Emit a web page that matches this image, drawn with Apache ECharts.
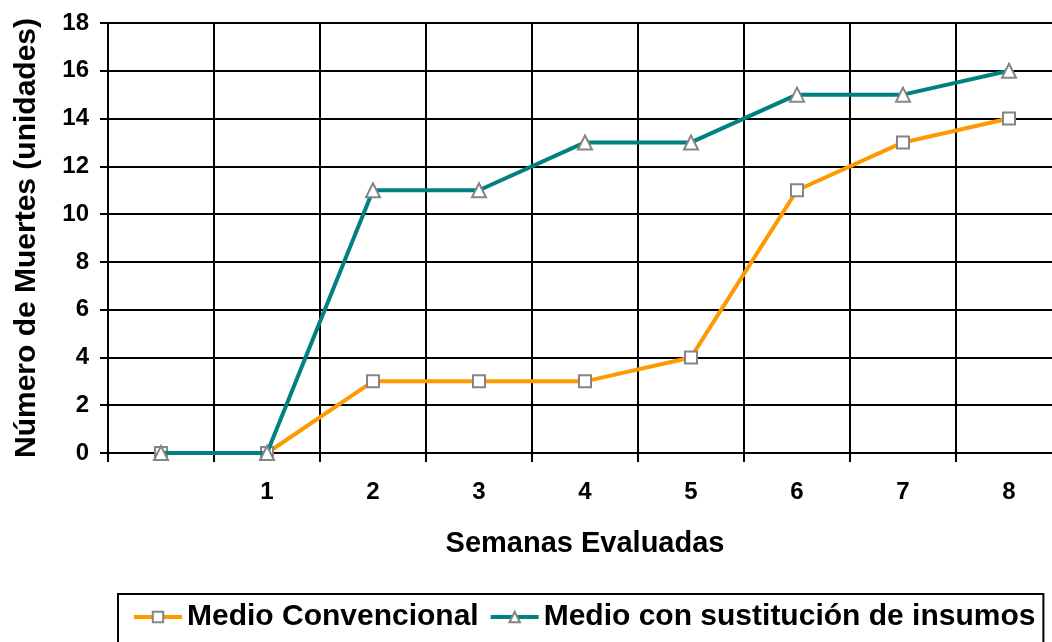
<!DOCTYPE html>
<html>
<head>
<meta charset="utf-8">
<script src="https://cdn.jsdelivr.net/npm/echarts@6/dist/echarts.min.js"></script>
<style>
  html, body { margin: 0; padding: 0; background: #fff; overflow: hidden; }
  /* the plot area continues slightly past the visible right edge */
  #chart { width: 1072px; height: 642px; }
</style>
</head>
<body>
<div id="chart"></div>
<script>
// Weeks evaluated (the first point is the starting week, left unlabeled)
const semanas = ['', '1', '2', '3', '4', '5', '6', '7', '8'];
// Cumulative deaths per medium
const medioConvencional = [0, 0, 3, 3, 3, 4, 11, 13, 14];
const medioSustitucion = [0, 0, 11, 11, 13, 13, 15, 15, 16];
const yTicks = { min: 0, max: 18, interval: 2 };

const FONT = '"Liberation Sans", Arial, sans-serif';
const chart = echarts.init(document.getElementById('chart'), null, { renderer: 'canvas' });

const markerStyle = { color: '#ffffff', borderColor: '#858585', borderWidth: 2 };

chart.setOption({
  animation: false,
  backgroundColor: '#ffffff',
  grid: { left: 108, right: 10, top: 23, bottom: 189, containLabel: false },
  xAxis: {
    type: 'category',
    data: semanas,
    boundaryGap: true,
    name: 'Semanas Evaluadas',
    nameLocation: 'middle',
    nameGap: 76,
    nameTextStyle: { fontFamily: FONT, fontWeight: 'bold', fontSize: 29, color: '#000' },
    axisLine: { show: true, lineStyle: { color: '#000', width: 2 } },
    axisTick: { show: true, length: 9, lineStyle: { color: '#000', width: 2 } },
    axisLabel: { interval: 0, margin: 27, fontFamily: FONT, fontWeight: 'bold', fontSize: 24, color: '#000' },
    splitLine: { show: true, interval: 0, lineStyle: { color: '#000', width: 2 } }
  },
  yAxis: {
    type: 'value',
    min: yTicks.min,
    max: yTicks.max,
    interval: yTicks.interval,
    name: 'Número de Muertes (unidades)',
    nameLocation: 'middle',
    nameGap: 66,
    nameTextStyle: { fontFamily: FONT, fontWeight: 'bold', fontSize: 30, color: '#000' },
    axisLine: { show: true, lineStyle: { color: '#000', width: 2 } },
    axisTick: { show: true, length: 8, lineStyle: { color: '#000', width: 2 } },
    axisLabel: { margin: 19, fontFamily: FONT, fontWeight: 'bold', fontSize: 24, color: '#000' },
    splitLine: { show: true, lineStyle: { color: '#000', width: 2 } }
  },
  legend: {
    left: 118,
    top: 594,
    orient: 'horizontal',
    padding: [8, 8, 12, 14],
    borderColor: '#000',
    borderWidth: 2,
    itemWidth: 48,
    itemHeight: 13,
    itemGap: 10,
    lineStyle: { width: 4 },
    textStyle: { fontFamily: FONT, fontWeight: 'bold', fontSize: 30, color: '#000' },
    data: ['Medio Convencional', 'Medio con sustitución de insumos']
  },
  series: [
    {
      name: 'Medio Convencional',
      type: 'line',
      data: medioConvencional,
      color: '#FF9900',
      lineStyle: { color: '#FF9900', width: 4 },
      symbol: 'rect',
      symbolSize: 12,
      showAllSymbol: true,
      itemStyle: markerStyle,
      z: 3
    },
    {
      name: 'Medio con sustitución de insumos',
      type: 'line',
      data: medioSustitucion,
      color: '#008080',
      lineStyle: { color: '#008080', width: 4 },
      symbol: 'triangle',
      symbolSize: 14,
      showAllSymbol: true,
      itemStyle: markerStyle,
      z: 4
    }
  ]
});
</script>
</body>
</html>
